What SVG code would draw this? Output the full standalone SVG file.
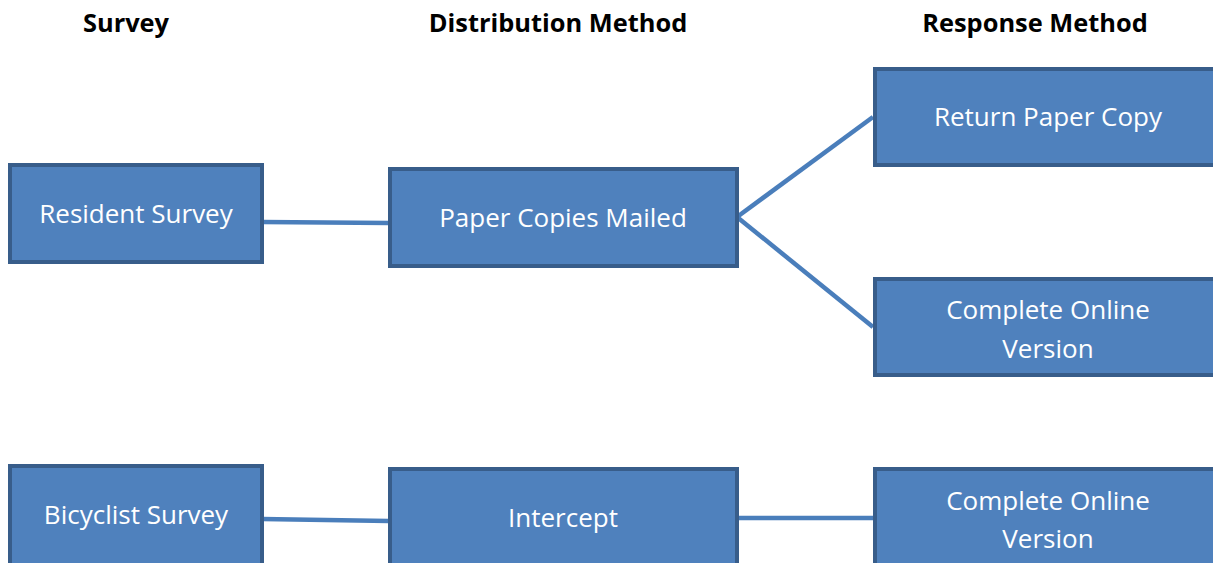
<svg xmlns="http://www.w3.org/2000/svg" width="1213" height="563" viewBox="0 0 1213 563">
<style>
.box{fill:#4F81BD;stroke:#385D8A;stroke-width:4}
.lbl{font-family:"Open Sans","Liberation Sans",sans-serif;font-size:26px;fill:#FFFFFF;text-anchor:middle}
.hdr{font-family:"Open Sans","Liberation Sans",sans-serif;font-size:25.4px;font-weight:bold;fill:#000000;text-anchor:middle}
.con{stroke:#4A7EBB;stroke-width:4.5;fill:none}
</style>
<rect width="1213" height="563" fill="#FFFFFF"/>
<g id="headers">
<text class="hdr" x="126" y="32">Survey</text>
<text class="hdr" x="558" y="32">Distribution Method</text>
<text class="hdr" x="1035" y="32">Response Method</text>
</g>
<g id="connectors">
<line class="con" x1="262" y1="222" x2="389" y2="223"/>
<line class="con" x1="737" y1="217" x2="873" y2="117"/>
<line class="con" x1="737" y1="217" x2="873" y2="327"/>
<line class="con" x1="262" y1="519" x2="389" y2="521"/>
<line class="con" x1="737" y1="518" x2="873" y2="518"/>
</g>
<g id="resident">
<rect class="box" x="10" y="165" width="252" height="97"/>
<text class="lbl" x="136" y="223">Resident Survey</text>
</g>
<g id="mailed">
<rect class="box" x="390" y="169" width="347" height="97"/>
<text class="lbl" x="563" y="227">Paper Copies Mailed</text>
</g>
<g id="returnpaper">
<rect class="box" x="875" y="69" width="345" height="96"/>
<text class="lbl" x="1048" y="126">Return Paper Copy</text>
</g>
<g id="online1">
<rect class="box" x="875" y="279" width="345" height="96"/>
<text class="lbl" x="1048" y="319">Complete Online</text>
<text class="lbl" x="1048" y="358">Version</text>
</g>
<g id="bicyclist">
<rect class="box" x="10" y="466" width="252" height="110"/>
<text class="lbl" x="136" y="524">Bicyclist Survey</text>
</g>
<g id="intercept">
<rect class="box" x="390" y="469" width="347" height="110"/>
<text class="lbl" x="563" y="527">Intercept</text>
</g>
<g id="online2">
<rect class="box" x="875" y="469" width="345" height="110"/>
<text class="lbl" x="1048" y="510">Complete Online</text>
<text class="lbl" x="1048" y="548">Version</text>
</g>
</svg>
